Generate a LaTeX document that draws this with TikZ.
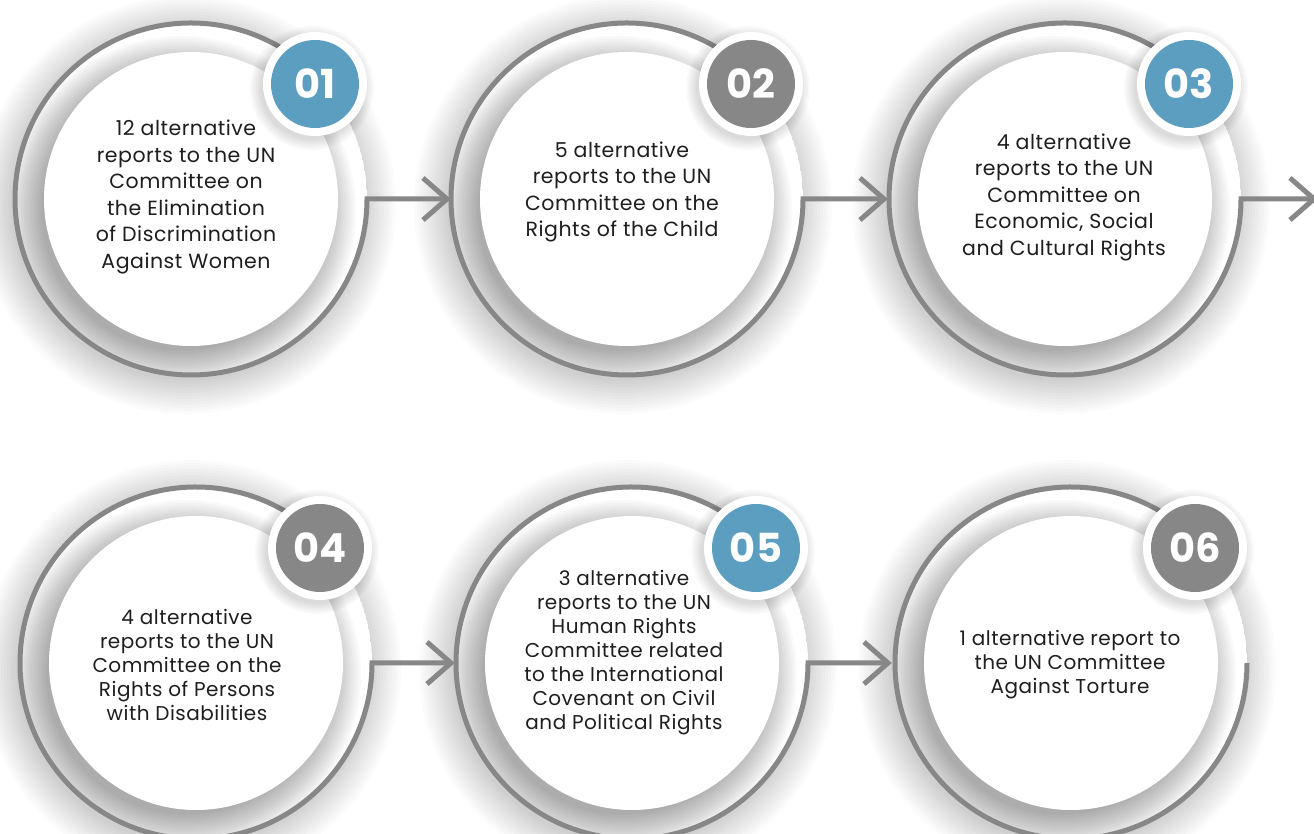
\documentclass[tikz,border=0pt]{standalone}
\usepackage{fontspec}
\setmainfont{Poppins}
\newfontfamily\lblfont[LetterSpace=2.5]{Poppins}
\usetikzlibrary{calc}
\definecolor{ringgray}{HTML}{878787}
\definecolor{badgeblue}{HTML}{5B9EC0}
\definecolor{badgegray}{HTML}{878787}
\definecolor{txt}{HTML}{1E1E1E}
\tikzset{
  ringline/.style={draw=ringgray, line width=5pt, line join=miter},
  innercirc/.style={circle, fill=white, minimum size=294pt, inner sep=0pt},
  badgering/.style={circle, fill=white, minimum size=104pt, inner sep=0pt},
  badgenum/.style={circle, minimum size=88pt, inner sep=0pt, text=white,
    font=\fontsize{40}{40}\selectfont\bfseries},
  lblA/.style={align=center, text=txt, font=\lblfont\fontsize{20.5}{26.5}\selectfont},
  lblB/.style={align=center, text=txt, font=\lblfont\fontsize{20}{24}\selectfont},
}
% halo behind a unit
\newcommand\haloat[1]{%
  \foreach \r in {176,179,...,209} \fill[black,opacity=0.014] ($(#1)+(-4,-6)$) circle (\r);}
% one unit body: #1 id
\newcommand\unitbody[1]{%
  \begin{scope}
    \clip (o#1) circle (176);
    \fill[white] (o#1) circle (176);
    \foreach \r in {140,142.5,...,175} \fill[black,opacity=0.022] ($(o#1)+(-10,-12)$) circle (\r);
  \end{scope}
  \node[innercirc] (c#1) at (o#1) {};
}
\newcommand\badge[3]{%
  \foreach \r in {52,54,...,62} \fill[black,opacity=0.025] ($(o#1)+(121,111)$) circle (\r);
  \node[badgering] (w#1) at ($(o#1)+(124,115)$) {};
  \node[badgenum, fill=#2] (b#1) at (w#1) {#3};
}
\begin{document}
\begin{tikzpicture}[x=1pt,y=1pt]
\path[use as bounding box] (0,0) rectangle (1314,834);
\clip (0,0) rectangle (1314,834);
\fill[white] (0,0) rectangle (1314,834);
% centres
\coordinate (o1) at (191,635);
\coordinate (o2) at (627,635);
\coordinate (o3) at (1065,635);
\coordinate (o4) at (196,171);
\coordinate (o5) at (632,171);
\coordinate (o6) at (1071,171);
\coordinate (o7) at (1494,635);
% ring end points and arrow tips
\coordinate (a2) at ($(o2)+(-180,0)$);
\coordinate (a3) at ($(o3)+(-181,0)$);
\coordinate (a4) at ($(o7)+(-180,0)$);
\coordinate (a5) at ($(o5)+(-181,0)$);
\coordinate (a6) at ($(o6)+(-183,0)$);
% halos
\haloat{o1}\haloat{o2}\haloat{o3}\haloat{o4}\haloat{o5}\haloat{o6}
% bodies
\unitbody{1}\unitbody{2}\unitbody{3}
\unitbody{4}\unitbody{5}\unitbody{6}
% rings with connectors
\draw[ringline] ($(o1)+(40:176)$) arc[start angle=40,end angle=360,radius=176] -- (a2);
\draw[ringline] ($(o2)+(40:176)$) arc[start angle=40,end angle=360,radius=176] -- (a3);
\draw[ringline] ($(o3)+(40:176)$) arc[start angle=40,end angle=360,radius=176] -- (a4);
\draw[ringline] ($(o4)+(40:176)$) arc[start angle=40,end angle=360,radius=176] -- (a5);
\draw[ringline] ($(o5)+(40:176)$) arc[start angle=40,end angle=360,radius=176] -- (a6);
\draw[ringline] ($(o6)+(40:176)$) arc[start angle=40,end angle=360,radius=176];
% arrow heads
\foreach \t in {a2,a3,a4,a5,a6}
  \draw[ringline] ($(\t)+(-24,21)$) -- (\t) -- ($(\t)+(-24,-21)$);
% badges
\badge{1}{badgeblue}{01}
\badge{2}{badgegray}{02}
\badge{3}{badgeblue}{03}
\badge{4}{badgegray}{04}
\badge{5}{badgeblue}{05}
\badge{6}{badgegray}{06}
% texts
\node[lblA] (t1) at (186,637) {12 alternative\\reports to the UN\\Committee on\\the Elimination\\of Discrimination\\Against Women};
\node[lblA] (t2) at (622,642) {5 alternative\\reports to the UN\\Committee on the\\Rights of the Child};
\node[lblA] (t3) at (1064,637) {4 alternative\\reports to the UN\\Committee on\\Economic, Social\\and Cultural Rights};
\node[lblB] (t4) at (187,169) {4 alternative\\reports to the UN\\Committee on the\\Rights of Persons\\with Disabilities};
\node[lblB] (t5) at (624,181) {3 alternative\\reports to the UN\\Human Rights\\Committee related\\to the International\\Covenant on Civil\\and Political Rights};
\node[lblB] (t6) at (1070,169) {1 alternative report to\\the UN Committee\\Against Torture};
\end{tikzpicture}
\end{document}
